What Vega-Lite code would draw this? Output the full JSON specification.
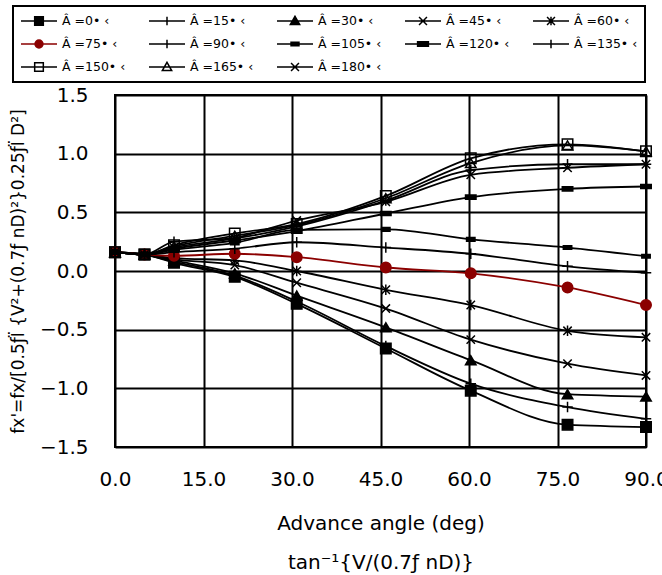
{
  "$schema": "https://vega.github.io/schema/vega-lite/v6.json",
  "width": 531,
  "height": 352,
  "autosize": "none",
  "padding": {"left": 115, "top": 95, "right": 16, "bottom": 128},
  "background": "white",
  "config": {
    "view": {"stroke": "black", "strokeWidth": 2},
    "font": "DejaVu Sans",
    "axis": {
      "domain": false,
      "ticks": false,
      "grid": true,
      "gridColor": "black",
      "gridWidth": 2,
      "gridOpacity": 1,
      "labelColor": "black",
      "titleColor": "black",
      "labelFont": "DejaVu Sans",
      "titleFont": "DejaVu Sans",
      "titleFontWeight": "normal"
    },
    "legend": {
      "orient": "none", "legendX": -102, "legendY": -89, "direction": "horizontal", "columns": 5,
      "gridAlign": "all", "columnPadding": 22, "rowPadding": 7, "padding": 7, "clipHeight": 16,
      "symbolSize": 1296, "symbolStrokeWidth": 1.5, "symbolOpacity": 1, "labelOffset": 4,
      "labelFont": "DejaVu Sans", "labelFontSize": 12.5, "labelColor": "black", "labelLimit": 200,
      "strokeColor": "black"
    }
  },
  "datasets": {
    "curves": [
      {"beta": 0, "angle": 0, "fx": 0.16}, {"beta": 0, "angle": 5, "fx": 0.14}, {"beta": 0, "angle": 10, "fx": 0.07}, {"beta": 0, "angle": 20.3, "fx": -0.05}, {"beta": 0, "angle": 30.8, "fx": -0.28}, {"beta": 0, "angle": 45.9, "fx": -0.66}, {"beta": 0, "angle": 60.3, "fx": -1.02}, {"beta": 0, "angle": 76.7, "fx": -1.31}, {"beta": 0, "angle": 90, "fx": -1.33},
      {"beta": 15, "angle": 0, "fx": 0.16}, {"beta": 15, "angle": 5, "fx": 0.14}, {"beta": 15, "angle": 10, "fx": 0.08}, {"beta": 15, "angle": 20.3, "fx": -0.04}, {"beta": 15, "angle": 30.8, "fx": -0.26}, {"beta": 15, "angle": 45.9, "fx": -0.64}, {"beta": 15, "angle": 60.3, "fx": -0.96}, {"beta": 15, "angle": 76.7, "fx": -1.16}, {"beta": 15, "angle": 90, "fx": -1.26},
      {"beta": 30, "angle": 0, "fx": 0.16}, {"beta": 30, "angle": 5, "fx": 0.14}, {"beta": 30, "angle": 10, "fx": 0.09}, {"beta": 30, "angle": 20.3, "fx": -0.02}, {"beta": 30, "angle": 30.8, "fx": -0.21}, {"beta": 30, "angle": 45.9, "fx": -0.48}, {"beta": 30, "angle": 60.3, "fx": -0.76}, {"beta": 30, "angle": 76.7, "fx": -1.05}, {"beta": 30, "angle": 90, "fx": -1.07},
      {"beta": 45, "angle": 0, "fx": 0.16}, {"beta": 45, "angle": 5, "fx": 0.14}, {"beta": 45, "angle": 10, "fx": 0.1}, {"beta": 45, "angle": 20.3, "fx": 0.05}, {"beta": 45, "angle": 30.8, "fx": -0.1}, {"beta": 45, "angle": 45.9, "fx": -0.32}, {"beta": 45, "angle": 60.3, "fx": -0.585}, {"beta": 45, "angle": 76.7, "fx": -0.79}, {"beta": 45, "angle": 90, "fx": -0.89},
      {"beta": 60, "angle": 0, "fx": 0.16}, {"beta": 60, "angle": 5, "fx": 0.14}, {"beta": 60, "angle": 10, "fx": 0.11}, {"beta": 60, "angle": 20.3, "fx": 0.09}, {"beta": 60, "angle": 30.8, "fx": 0.0}, {"beta": 60, "angle": 45.9, "fx": -0.16}, {"beta": 60, "angle": 60.3, "fx": -0.29}, {"beta": 60, "angle": 76.7, "fx": -0.51}, {"beta": 60, "angle": 90, "fx": -0.565},
      {"beta": 75, "angle": 0, "fx": 0.16}, {"beta": 75, "angle": 5, "fx": 0.14}, {"beta": 75, "angle": 10, "fx": 0.13}, {"beta": 75, "angle": 20.3, "fx": 0.147}, {"beta": 75, "angle": 30.8, "fx": 0.118}, {"beta": 75, "angle": 45.9, "fx": 0.03}, {"beta": 75, "angle": 60.3, "fx": -0.02}, {"beta": 75, "angle": 76.7, "fx": -0.14}, {"beta": 75, "angle": 90, "fx": -0.29},
      {"beta": 90, "angle": 0, "fx": 0.16}, {"beta": 90, "angle": 5, "fx": 0.14}, {"beta": 90, "angle": 10, "fx": 0.16}, {"beta": 90, "angle": 20.3, "fx": 0.19}, {"beta": 90, "angle": 30.8, "fx": 0.245}, {"beta": 90, "angle": 45.9, "fx": 0.2}, {"beta": 90, "angle": 60.3, "fx": 0.147}, {"beta": 90, "angle": 76.7, "fx": 0.04}, {"beta": 90, "angle": 90, "fx": -0.015},
      {"beta": 105, "angle": 0, "fx": 0.16}, {"beta": 105, "angle": 5, "fx": 0.14}, {"beta": 105, "angle": 10, "fx": 0.18}, {"beta": 105, "angle": 20.3, "fx": 0.24}, {"beta": 105, "angle": 30.8, "fx": 0.35}, {"beta": 105, "angle": 45.9, "fx": 0.355}, {"beta": 105, "angle": 60.3, "fx": 0.27}, {"beta": 105, "angle": 76.7, "fx": 0.2}, {"beta": 105, "angle": 90, "fx": 0.126},
      {"beta": 120, "angle": 0, "fx": 0.16}, {"beta": 120, "angle": 5, "fx": 0.14}, {"beta": 120, "angle": 10, "fx": 0.19}, {"beta": 120, "angle": 20.3, "fx": 0.26}, {"beta": 120, "angle": 30.8, "fx": 0.34}, {"beta": 120, "angle": 45.9, "fx": 0.49}, {"beta": 120, "angle": 60.3, "fx": 0.63}, {"beta": 120, "angle": 76.7, "fx": 0.7}, {"beta": 120, "angle": 90, "fx": 0.72},
      {"beta": 135, "angle": 0, "fx": 0.16}, {"beta": 135, "angle": 5, "fx": 0.14}, {"beta": 135, "angle": 10, "fx": 0.25}, {"beta": 135, "angle": 20.3, "fx": 0.28}, {"beta": 135, "angle": 30.8, "fx": 0.38}, {"beta": 135, "angle": 45.9, "fx": 0.6}, {"beta": 135, "angle": 60.3, "fx": 0.86}, {"beta": 135, "angle": 76.7, "fx": 0.91}, {"beta": 135, "angle": 90, "fx": 0.91},
      {"beta": 150, "angle": 0, "fx": 0.16}, {"beta": 150, "angle": 5, "fx": 0.14}, {"beta": 150, "angle": 10, "fx": 0.22}, {"beta": 150, "angle": 20.3, "fx": 0.32}, {"beta": 150, "angle": 30.8, "fx": 0.4}, {"beta": 150, "angle": 45.9, "fx": 0.64}, {"beta": 150, "angle": 60.3, "fx": 0.96}, {"beta": 150, "angle": 76.7, "fx": 1.08}, {"beta": 150, "angle": 90, "fx": 1.02},
      {"beta": 165, "angle": 0, "fx": 0.16}, {"beta": 165, "angle": 5, "fx": 0.14}, {"beta": 165, "angle": 10, "fx": 0.21}, {"beta": 165, "angle": 20.3, "fx": 0.3}, {"beta": 165, "angle": 30.8, "fx": 0.39}, {"beta": 165, "angle": 45.9, "fx": 0.62}, {"beta": 165, "angle": 60.3, "fx": 0.92}, {"beta": 165, "angle": 76.7, "fx": 1.07}, {"beta": 165, "angle": 90, "fx": 1.02},
      {"beta": 180, "angle": 0, "fx": 0.16}, {"beta": 180, "angle": 5, "fx": 0.14}, {"beta": 180, "angle": 10, "fx": 0.2}, {"beta": 180, "angle": 20.3, "fx": 0.28}, {"beta": 180, "angle": 30.8, "fx": 0.43}, {"beta": 180, "angle": 45.9, "fx": 0.59}, {"beta": 180, "angle": 60.3, "fx": 0.82}, {"beta": 180, "angle": 76.7, "fx": 0.88}, {"beta": 180, "angle": 90, "fx": 0.91}
    ]
  },
  "data": {"name": "curves"},
  "encoding": {
    "x": {
      "field": "angle",
      "type": "quantitative",
      "scale": {"domain": [0, 90], "nice": false, "zero": false},
      "axis": {
        "values": [0, 15, 30, 45, 60, 75, 90],
        "format": ".1f",
        "labelFontSize": 20,
        "labelPadding": 22,
        "labelFlush": false,
        "labelOverlap": false,
        "title": ["Advance angle (deg)", "tan⁻¹{V/(0.7ƒ nD)}"],
        "titleFontSize": 20,
        "titleLineHeight": 39,
        "titlePadding": 24
      }
    },
    "y": {
      "field": "fx",
      "type": "quantitative",
      "scale": {"domain": [-1.5, 1.5], "nice": false, "zero": false},
      "axis": {
        "values": [-1.5, -1.0, -0.5, 0, 0.5, 1.0, 1.5],
        "format": ".1f",
        "labelFontSize": 20,
        "labelPadding": 27,
        "labelOverlap": false,
        "title": "fx'=fx/[0.5ƒÏ {V²+(0.7ƒ nD)²}0.25ƒÏ D²]",
        "titleFontSize": 17,
        "titlePadding": 12
      }
    }
  },
  "layer": [
    {
      "mark": {"type": "line", "interpolate": "monotone", "strokeWidth": 1.8},
      "encoding": {
        "stroke": {
          "field": "beta",
          "type": "nominal",
          "scale": {
            "domain": [0, 15, 30, 45, 60, 75, 90, 105, 120, 135, 150, 165, 180],
            "range": ["black", "black", "black", "black", "black", "#8b0000", "black", "black", "black", "black", "black", "black", "black"]
          },
          "legend": null
        }
      }
    },
    {
      "mark": {"type": "point", "filled": true, "size": 110, "strokeWidth": 1.5, "opacity": 1},
      "encoding": {
        "shape": {
          "field": "beta",
          "type": "nominal",
          "scale": {
            "domain": [0, 15, 30, 45, 60, 75, 90, 105, 120, 135, 150, 165, 180],
            "range": [
              "square",
              "M-1,0L1,0M0,-1L0,1",
              "triangle-up",
              "M-0.8,-0.8L0.8,0.8M-0.8,0.8L0.8,-0.8",
              "M-0.8,-0.8L0.8,0.8M-0.8,0.8L0.8,-0.8M0,-1L0,1",
              "circle",
              "M-1,0L1,0M0,-1L0,1",
              "M-0.8,-0.35L0.8,-0.35L0.8,0.35L-0.8,0.35Z",
              "M-1,-0.4L1,-0.4L1,0.4L-1,0.4Z",
              "M-1,0L1,0M0,-1L0,1",
              "square",
              "triangle-up",
              "M-0.8,-0.8L0.8,0.8M-0.8,0.8L0.8,-0.8"
            ]
          },
          "legend": null
        },
        "fill": {
          "field": "beta",
          "type": "nominal",
          "scale": {
            "domain": [0, 15, 30, 45, 60, 75, 90, 105, 120, 135, 150, 165, 180],
            "range": ["black", "black", "black", "black", "black", "#8b0000", "black", "black", "black", "black", "transparent", "transparent", "black"]
          },
          "legend": null
        },
        "stroke": {
          "field": "beta",
          "type": "nominal",
          "scale": {
            "domain": [0, 15, 30, 45, 60, 75, 90, 105, 120, 135, 150, 165, 180],
            "range": ["black", "black", "black", "black", "black", "#8b0000", "black", "black", "black", "black", "black", "black", "black"]
          },
          "legend": null
        }
      }
    },
    {
      "transform": [{"filter": "false"}],
      "mark": {"type": "point", "filled": true, "size": 1296, "strokeWidth": 1.5},
      "encoding": {
        "shape": {
          "field": "beta",
          "type": "nominal",
          "scale": {
            "domain": [0, 15, 30, 45, 60, 75, 90, 105, 120, 135, 150, 165, 180],
            "range": [
              "M-1,0L1,0M-0.24,-0.24L0.24,-0.24L0.24,0.24L-0.24,0.24Z",
              "M-1,0L1,0M0,-0.24L0,0.24",
              "M-1,0L1,0M0,-0.26L0.26,0.2L-0.26,0.2Z",
              "M-1,0L1,0M-0.22,-0.22L0.22,0.22M-0.22,0.22L0.22,-0.22",
              "M-1,0L1,0M-0.22,-0.22L0.22,0.22M-0.22,0.22L0.22,-0.22M0,-0.24L0,0.24",
              "M-1,0L1,0M0.22,0A0.22,0.22,0,1,1,-0.22,0A0.22,0.22,0,1,1,0.22,0Z",
              "M-1,0L1,0M0,-0.24L0,0.24",
              "M-1,0L1,0M-0.22,-0.1L0.22,-0.1L0.22,0.1L-0.22,0.1Z",
              "M-1,0L1,0M-0.3,-0.12L0.3,-0.12L0.3,0.12L-0.3,0.12Z",
              "M-1,0L1,0M0,-0.24L0,0.24",
              "M-1,0L1,0M-0.24,-0.24L0.24,-0.24L0.24,0.24L-0.24,0.24Z",
              "M-1,0L1,0M0,-0.26L0.26,0.2L-0.26,0.2Z",
              "M-1,0L1,0M-0.22,-0.22L0.22,0.22M-0.22,0.22L0.22,-0.22"
            ]
          },
          "legend": {
            "title": null,
            "labelExpr": "'Â =' + datum.label + '• ‹'",
            "encode": {"legend": {"update": {"strokeWidth": {"value": 2}}}}
          }
        },
        "fill": {
          "field": "beta",
          "type": "nominal",
          "scale": {
            "domain": [0, 15, 30, 45, 60, 75, 90, 105, 120, 135, 150, 165, 180],
            "range": ["black", "black", "black", "black", "black", "#8b0000", "black", "black", "black", "black", "transparent", "transparent", "black"]
          },
          "legend": {
            "title": null,
            "labelExpr": "'Â =' + datum.label + '• ‹'",
            "encode": {"legend": {"update": {"strokeWidth": {"value": 2}}}}
          }
        },
        "stroke": {
          "field": "beta",
          "type": "nominal",
          "scale": {
            "domain": [0, 15, 30, 45, 60, 75, 90, 105, 120, 135, 150, 165, 180],
            "range": ["black", "black", "black", "black", "black", "#8b0000", "black", "black", "black", "black", "black", "black", "black"]
          },
          "legend": {
            "title": null,
            "labelExpr": "'Â =' + datum.label + '• ‹'",
            "encode": {"legend": {"update": {"strokeWidth": {"value": 2}}}}
          }
        }
      }
    }
  ],
  "resolve": {"scale": {"shape": "independent", "fill": "independent", "stroke": "independent"}}
}
